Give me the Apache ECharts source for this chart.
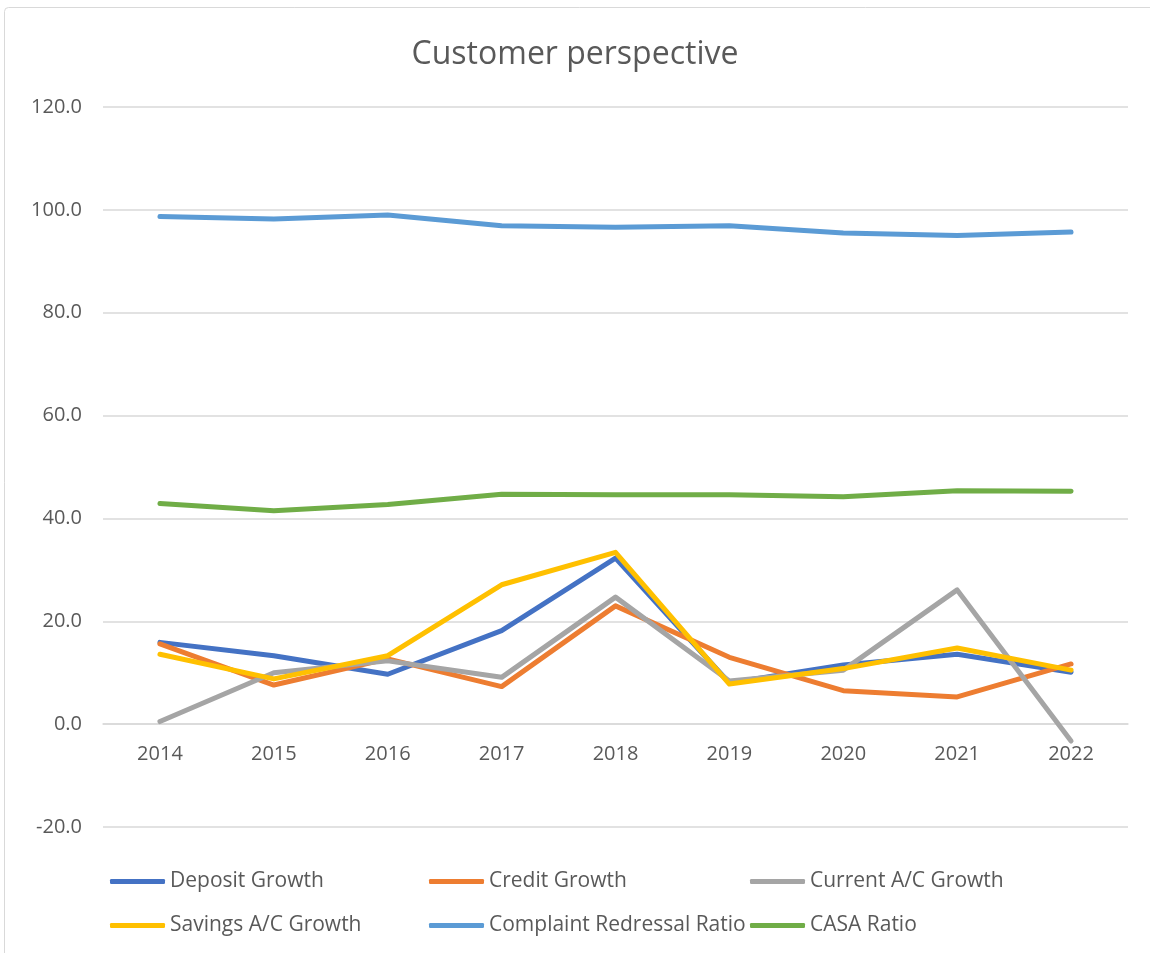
<!DOCTYPE html>
<html>
	<head>
		<meta charset="UTF-8">
		<title>Customer perspective</title>
		<script src="https://cdn.jsdelivr.net/npm/echarts@6/dist/echarts.min.js"></script>
		<style>
			html, body { margin: 0; padding: 0; background: #fff; }
		</style>
	</head>
	<body>
		<div id="chart" style="width: 1150px; height: 953px;"></div>
		<script type="text/javascript">
			// data
			var years = ['2014', '2015', '2016', '2017', '2018', '2019', '2020', '2021', '2022'];
			var depositGrowth = [15.9, 13.3, 9.7, 18.2, 32.3, 8.0, 11.5, 13.6, 10.1];
			var creditGrowth = [15.6, 7.6, 12.7, 7.3, 23.0, 13.0, 6.5, 5.3, 11.7];
			var currentGrowth = [0.5, 10.0, 12.3, 9.1, 24.7, 8.4, 10.5, 26.1, -3.3];
			var savingsGrowth = [13.6, 8.8, 13.3, 27.1, 33.4, 7.8, 10.8, 14.8, 10.5];
			var complaintRatio = [98.7, 98.2, 99.0, 96.9, 96.6, 96.9, 95.5, 95.0, 95.7];
			var casaRatio = [42.9, 41.5, 42.7, 44.7, 44.6, 44.6, 44.2, 45.4, 45.3];

			var seriesNames = ['Deposit Growth', 'Credit Growth', 'Current A/C Growth',
				'Savings A/C Growth', 'Complaint Redressal Ratio', 'CASA Ratio'];
			var seriesData = [depositGrowth, creditGrowth, currentGrowth, savingsGrowth, complaintRatio, casaRatio];
			var colors = ['#4472C4', '#ED7D31', '#A5A5A5', '#FFC000', '#5B9BD5', '#70AD47'];

			var font = "'Open Sans', sans-serif";
			var textColor = '#595959';

			// legend laid out as a 3 x 2 grid, one legend per item
			var legendLeft = [110, 429, 750];
			var legendTop = [871, 915];
			var legends = seriesNames.map(function(name, i) {
				return {
					data: [name],
					left: legendLeft[i % 3],
					top: legendTop[Math.floor(i / 3)],
					padding: 0,
					icon: 'roundRect',
					itemWidth: 55,
					itemHeight: 5,
					selectedMode: false,
					textStyle: { color: textColor, fontSize: 21, fontFamily: font }
				};
			});

			var chart = echarts.init(document.getElementById('chart'));
			var option = {
				backgroundColor: '#fff',
				animation: false,
				color: colors,
				title: {
					text: 'Customer perspective',
					left: 'center',
					top: 34,
					textStyle: { color: textColor, fontSize: 32, fontWeight: 'normal', fontFamily: font }
				},
				graphic: [{
					type: 'rect',
					shape: { x: 4.5, y: 7.5, width: 1200, height: 1000, r: 4 },
					style: { fill: 'none', stroke: '#d9d9d9', lineWidth: 1 },
					silent: true
				}],
				legend: legends,
				grid: { left: 103, right: 22, top: 107, bottom: 126, containLabel: false },
				xAxis: {
					type: 'category',
					data: years,
					boundaryGap: true,
					axisLine: { onZero: true, lineStyle: { color: '#d9d9d9', width: 1.5 } },
					axisTick: { show: false },
					// labels sit just under the zero line, as in the reference
					axisLabel: { color: textColor, fontSize: 20, fontFamily: font, margin: -83 }
				},
				yAxis: {
					type: 'value',
					min: -20,
					max: 120,
					interval: 20,
					axisLine: { show: false },
					axisTick: { show: false },
					splitLine: { lineStyle: { color: '#d9d9d9', width: 1.5 } },
					axisLabel: {
						color: textColor, fontSize: 20, fontFamily: font, margin: 21,
						formatter: function(v) { return v.toFixed(1); }
					}
				},
				series: seriesNames.map(function(name, i) {
					return {
						name: name,
						type: 'line',
						data: seriesData[i],
						showSymbol: false,
						symbol: 'none',
						lineStyle: { width: 5, color: colors[i], cap: 'round', join: 'round' },
						itemStyle: { color: colors[i] },
						z: 2
					};
				})
			};
			chart.setOption(option);
		</script>
	</body>
</html>
